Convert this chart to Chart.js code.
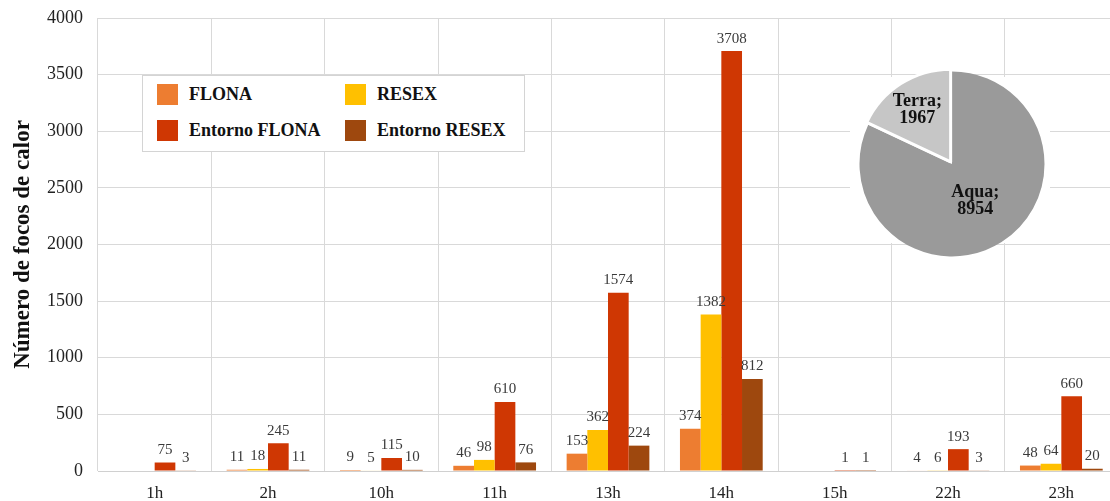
<!DOCTYPE html>
<html>
<head>
<meta charset="utf-8">
<script src="https://cdn.jsdelivr.net/npm/chart.js@4/dist/chart.umd.min.js"></script>
<style>
  html, body { margin: 0; padding: 0; background: #fff; overflow: hidden; }
  #wrap { position: relative; width: 1118px; height: 501px; }
  #bars { position: absolute; left: 0; top: 0; }
  #legend {
    position: absolute; left: 142px; top: 75px; width: 381px; height: 75px;
    background: #fff; border: 1px solid #d4d4d4;
    font-family: "Liberation Serif", serif; font-weight: bold; font-size: 18px; color: #111;
  }
  #legend .item { position: absolute; display: flex; align-items: center; height: 21px; }
  #legend .sw { width: 21px; height: 21px; margin-right: 11px; }
  #pieBox { position: absolute; left: 850px; top: 77px; width: 200px; height: 166px; background: #fff; }
  #pie { position: absolute; left: 845px; top: 57px; }
</style>
</head>
<body>
<div id="wrap">
  <canvas id="bars" width="1118" height="501"></canvas>
  <div id="legend"></div>
  <div id="pieBox"></div>
  <canvas id="pie" width="214" height="214"></canvas>
</div>
<script>
'use strict';

const hours = ['1h', '2h', '10h', '11h', '13h', '14h', '15h', '22h', '23h'];
const flona = [null, 11, 9, 46, 153, 374, null, 4, 48];
const resex = [null, 18, 5, 98, 362, 1382, null, 6, 64];
const entornoFlona = [75, 245, 115, 610, 1574, 3708, 1, 193, 660];
const entornoResex = [3, 11, 10, 76, 224, 812, 1, 3, 20];

const seriesNames = ['FLONA', 'RESEX', 'Entorno FLONA', 'Entorno RESEX'];
const seriesColors = ['#ED7D31', '#FFC000', '#CF3703', '#9E480E'];

const satellites = ['Aqua', 'Terra'];
const satelliteCounts = [8954, 1967];
const satelliteColors = ['#9a9a9a', '#c6c6c6'];

const SERIF = '"Liberation Serif", "DejaVu Serif", serif';

// value labels above each bar
const barLabels = {
  id: 'barLabels',
  afterDatasetsDraw(chart) {
    const ctx = chart.ctx;
    ctx.save();
    ctx.font = '15px ' + SERIF;
    ctx.fillStyle = '#3a3a3a';
    ctx.textAlign = 'center';
    ctx.textBaseline = 'bottom';
    chart.data.datasets.forEach((ds, di) => {
      chart.getDatasetMeta(di).data.forEach((bar, i) => {
        const v = ds.data[i];
        if (v === null || v === undefined) return;
        ctx.fillText(String(v), bar.x, bar.y - 5);
      });
    });
    ctx.restore();
  }
};

const barChart = new Chart(document.getElementById('bars'), {
  type: 'bar',
  data: {
    labels: hours,
    datasets: [flona, resex, entornoFlona, entornoResex].map((d, i) => ({
      label: seriesNames[i],
      data: d,
      backgroundColor: seriesColors[i],
      borderWidth: 0,
      categoryPercentage: 0.73,
      barPercentage: 1.0,
    })),
  },
  options: {
    responsive: false,
    animation: false,
    layout: { padding: { top: 18, right: 0, bottom: 0, left: 0 } },
    plugins: { legend: { display: false }, tooltip: { enabled: false } },
    scales: {
      x: {
        grid: { color: '#d9d9d9', offset: true, drawTicks: false },
        border: { color: '#d0d0d0' },
        ticks: { font: { family: SERIF, size: 17 }, color: '#222', padding: 12 },
        afterFit: s => { s.height = 30; },
      },
      y: {
        min: 0, max: 4000,
        grid: { color: '#d9d9d9', drawTicks: false },
        border: { display: false },
        ticks: {
          stepSize: 500, font: { family: SERIF, size: 18 }, color: '#222', padding: 15,
          callback: v => String(v),
        },
        title: {
          display: true, text: 'Número de focos de calor',
          font: { family: SERIF, size: 23, weight: 'bold' }, color: '#111',
          padding: { top: 9, bottom: 0 },
        },
        afterFit: s => { s.width = 98; s.paddingTop = 0; s.paddingBottom = 0; },
      },
    },
  },
  plugins: [barLabels],
});

// legend in the plot area
const legendEl = document.getElementById('legend');
const legendPos = [[14, 8], [202, 8], [14, 44], [202, 44]];
seriesNames.forEach((name, i) => {
  const item = document.createElement('div');
  item.className = 'item';
  item.style.left = legendPos[i][0] + 'px';
  item.style.top = legendPos[i][1] + 'px';
  const sw = document.createElement('span');
  sw.className = 'sw';
  sw.style.background = seriesColors[i];
  const tx = document.createElement('span');
  tx.textContent = name;
  item.appendChild(sw);
  item.appendChild(tx);
  legendEl.appendChild(item);
});

// pie labels "Name;\nvalue"
const pieLabels = {
  id: 'pieLabels',
  afterDatasetsDraw(chart) {
    const ctx = chart.ctx;
    const radial = [0.47, 0.7];
    ctx.save();
    ctx.font = 'bold 18px ' + SERIF;
    ctx.fillStyle = '#111';
    ctx.textAlign = 'center';
    ctx.textBaseline = 'middle';
    chart.getDatasetMeta(0).data.forEach((arc, i) => {
      const p = arc.getProps(['x', 'y', 'startAngle', 'endAngle', 'outerRadius']);
      const mid = (p.startAngle + p.endAngle) / 2;
      const r = p.outerRadius * radial[i];
      const x = p.x + Math.cos(mid) * r;
      const y = p.y + Math.sin(mid) * r;
      ctx.fillText(chart.data.labels[i] + ';', x, y - 8);
      ctx.fillText(String(chart.data.datasets[0].data[i]), x, y + 9);
    });
    ctx.restore();
  }
};

const pieChart = new Chart(document.getElementById('pie'), {
  type: 'pie',
  data: {
    labels: satellites,
    datasets: [{
      data: satelliteCounts,
      backgroundColor: satelliteColors,
      borderColor: '#ffffff',
      borderWidth: [0, 3],
      offset: [0, 10],
    }],
  },
  options: {
    responsive: false,
    animation: false,
    layout: { padding: 8 },
    plugins: { legend: { display: false }, tooltip: { enabled: false } },
  },
  plugins: [pieLabels],
});
</script>
</body>
</html>
